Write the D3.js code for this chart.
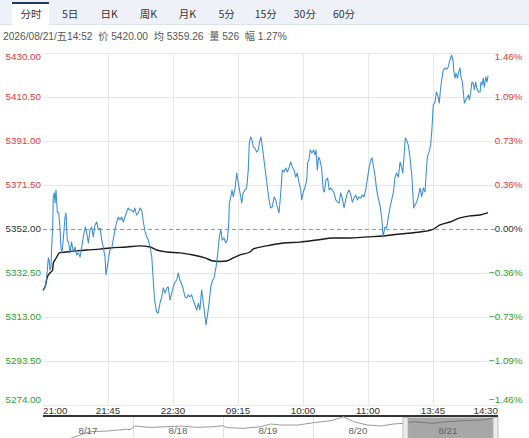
<!DOCTYPE html>
<html><head><meta charset="utf-8">
<script src="https://cdn.jsdelivr.net/npm/d3@7"></script>
<style>
html,body{margin:0;padding:0;background:#fff;overflow:hidden;}
svg{display:block;font-family:"Liberation Sans",Arial,"Noto Sans CJK SC",sans-serif;}
</style></head><body>
<svg id="chart" width="529" height="438"></svg>
<script>
// ---------- data ----------
const tabs = ["分时","5日","日K","周K","月K","5分","15分","30分","60分"];
const infoText = "2026/08/21/五14:52  价 5420.00  均 5359.26  量 526  幅 1.27%";
const prevClose = 5352;
const priceTicks = [5430, 5410.5, 5391, 5371.5, 5352, 5332.5, 5313, 5293.5, 5274];
const timeTicks = ["21:00","21:45","22:30","09:15","10:00","11:00","13:45","14:30"];
const tickStepMinutes = 45;
const sessionMinutes = 315;
// [trading minute, price]
const pricePoints = [[0,5324.5],[1.9,5327.2],[3.0,5333.8],[3.7,5339.2],[4.3,5338.3],[4.8,5333.8],[5.5,5334.7],[6.0,5344.0],[6.7,5352.9],[7.1,5366.2],[7.8,5368.0],[8.3,5363.5],[9.0,5369.3],[9.9,5359.5],[10.9,5359.1],[11.7,5352.9],[12.4,5344.0],[13.1,5341.4],[14.0,5347.1],[15.2,5356.9],[15.9,5359.1],[16.8,5347.1],[17.8,5345.8],[18.7,5341.4],[19.8,5346.2],[21.0,5341.8],[22.2,5344.0],[23.3,5340.5],[24.5,5341.4],[25.7,5339.6],[26.8,5344.0],[27.9,5348.5],[29.3,5352.9],[30.3,5350.2],[31.4,5345.8],[32.6,5351.6],[33.7,5352.9],[34.8,5348.5],[36.0,5353.8],[37.2,5355.1],[38.3,5351.6],[39.5,5352.4],[40.7,5347.1],[41.7,5344.0],[42.9,5339.6],[43.6,5331.6],[44.5,5335.2],[45.5,5339.6],[46.4,5342.7],[47.6,5343.6],[48.6,5347.1],[49.8,5351.6],[51.0,5355.1],[52.1,5357.3],[53.3,5356.0],[54.5,5357.3],[55.6,5355.1],[56.7,5357.3],[57.9,5359.5],[59.0,5361.3],[60.2,5360.4],[61.4,5360.4],[62.6,5359.5],[63.6,5361.3],[64.8,5358.2],[66.0,5359.1],[67.2,5361.3],[68.3,5360.4],[69.5,5355.1],[70.7,5350.7],[71.8,5348.5],[72.9,5347.1],[74.1,5344.0],[75.3,5339.6],[76.0,5332.5],[76.9,5323.6],[77.6,5319.2],[78.7,5315.2],[79.8,5314.8],[81.0,5319.2],[82.2,5321.9],[83.3,5325.9],[84.5,5323.6],[85.7,5325.9],[86.7,5326.3],[87.9,5320.5],[89.1,5323.6],[90.2,5326.3],[91.4,5328.5],[92.6,5329.4],[93.6,5332.5],[94.8,5329.4],[96.7,5326.3],[98.3,5321.9],[99.5,5321.4],[100.6,5322.8],[101.7,5321.9],[102.9,5322.8],[104.0,5320.5],[105.2,5318.3],[106.4,5316.1],[107.6,5319.2],[108.6,5316.1],[109.8,5325.0],[111.0,5319.2],[112.2,5313.0],[112.9,5309.5],[114.1,5314.8],[115.2,5320.5],[116.1,5326.3],[117.5,5329.4],[118.4,5330.3],[119.8,5335.2],[121.0,5341.4],[122.1,5348.5],[123.1,5351.6],[124.1,5347.1],[125.3,5348.0],[126.5,5345.8],[127.6,5347.1],[128.6,5354.0],[129.0,5363.5],[130.0,5366.2],[130.9,5369.3],[131.7,5366.2],[133.1,5370.6],[134.1,5376.8],[135.2,5372.4],[136.4,5368.0],[137.6,5363.5],[138.6,5368.0],[139.8,5369.3],[141.0,5370.2],[142.1,5378.1],[142.8,5390.1],[143.8,5392.8],[144.7,5391.4],[145.6,5388.3],[146.7,5387.9],[147.9,5386.1],[149.0,5387.0],[150.2,5391.4],[150.9,5392.8],[151.9,5388.3],[153.0,5382.6],[154.1,5376.8],[155.3,5370.6],[156.5,5364.9],[157.6,5361.3],[158.8,5361.8],[160.0,5366.2],[161.1,5364.9],[162.2,5361.8],[163.4,5359.1],[164.6,5368.0],[165.7,5378.1],[166.9,5377.3],[168.1,5379.0],[169.1,5377.3],[170.3,5379.0],[171.5,5381.7],[172.6,5379.5],[173.8,5378.1],[175.0,5375.0],[176.0,5376.8],[177.2,5372.8],[178.4,5369.3],[179.1,5364.9],[180.2,5368.4],[181.4,5370.6],[182.6,5373.7],[183.2,5381.3],[184.1,5382.6],[185.0,5387.0],[186.2,5385.7],[187.4,5387.0],[188.3,5384.8],[189.0,5387.0],[189.9,5378.1],[190.8,5383.9],[191.7,5382.6],[192.9,5379.0],[194.0,5369.3],[194.8,5368.4],[195.9,5373.7],[197.1,5374.6],[198.1,5369.3],[199.1,5370.2],[200.3,5369.3],[201.5,5368.0],[202.7,5364.9],[203.8,5364.0],[205.0,5363.5],[206.1,5368.0],[207.2,5365.7],[208.4,5361.3],[209.6,5364.9],[210.7,5368.0],[211.9,5369.3],[213.1,5367.1],[214.1,5364.0],[215.3,5365.7],[216.5,5367.1],[217.6,5364.9],[218.8,5366.2],[220.0,5365.7],[221.0,5367.1],[222.2,5366.2],[223.4,5369.3],[224.5,5373.7],[225.7,5379.0],[226.9,5382.6],[227.8,5383.5],[228.6,5380.4],[229.8,5375.9],[231.0,5369.3],[232.1,5365.7],[233.3,5362.6],[234.5,5356.9],[235.5,5348.5],[236.7,5352.9],[237.9,5352.4],[239.0,5356.9],[240.2,5361.3],[241.4,5364.9],[242.6,5368.4],[243.6,5374.6],[244.8,5376.8],[246.0,5375.0],[247.2,5381.7],[248.4,5379.0],[249.1,5376.8],[250.0,5384.8],[250.8,5392.3],[251.8,5391.4],[252.9,5389.2],[254.1,5383.5],[255.3,5375.9],[256.0,5368.4],[256.6,5361.3],[257.6,5362.6],[258.7,5364.0],[259.8,5366.2],[261.0,5370.2],[262.2,5366.2],[263.3,5370.2],[264.5,5368.4],[265.2,5375.9],[266.0,5383.5],[267.2,5386.1],[268.4,5389.2],[269.3,5396.8],[270.2,5407.0],[271.4,5408.3],[272.3,5412.7],[273.2,5411.4],[274.3,5407.8],[275.3,5414.5],[276.2,5418.9],[277.1,5422.5],[278.3,5423.4],[279.5,5422.9],[280.5,5423.8],[281.7,5426.9],[282.9,5429.1],[283.8,5426.9],[284.5,5421.6],[285.2,5418.9],[285.9,5421.1],[286.9,5418.9],[287.8,5421.6],[288.7,5423.4],[289.4,5419.4],[290.3,5417.1],[291.0,5412.7],[291.7,5407.8],[292.7,5409.2],[293.4,5410.1],[294.5,5411.4],[295.2,5409.2],[296.1,5412.7],[297.0,5417.1],[297.9,5416.7],[298.6,5413.6],[299.6,5417.1],[300.3,5414.5],[301.4,5412.7],[302.6,5412.7],[303.2,5417.1],[303.9,5415.8],[304.8,5418.9],[305.5,5414.9],[306.5,5419.4],[307.4,5417.1],[308.1,5420.0]];
// [trading minute, average price]
const avgPoints = [[0,5325.0],[1.4,5326.3],[3.0,5330.7],[4.8,5332.5],[6.7,5333.8],[7.1,5336.9],[8.3,5338.3],[9.9,5340.0],[11.2,5341.4],[16.4,5341.8],[23.3,5342.3],[30.3,5342.7],[39.5,5343.1],[46.4,5343.6],[57.9,5344.0],[67.2,5344.5],[74.1,5344.0],[78.7,5342.7],[85.7,5341.8],[94.8,5341.4],[104.0,5340.5],[112.2,5339.2],[117.9,5337.8],[122.6,5337.6],[127.2,5337.8],[131.7,5339.2],[136.4,5340.5],[143.3,5341.8],[145.4,5343.1],[154.8,5344.5],[166.4,5345.8],[177.9,5346.2],[189.5,5347.1],[201.0,5348.0],[212.6,5348.0],[224.1,5348.5],[235.5,5348.9],[247.2,5349.8],[261.0,5350.7],[269.1,5351.6],[274.8,5353.8],[281.7,5355.1],[288.7,5356.9],[295.6,5357.8],[302.6,5358.2],[308.1,5359.26]];
// navigator (5 days overview)
const navDays = ["8/17","8/18","8/19","8/20","8/21"];
const navPoints = [[0.0,5200],[0.19,5230],[0.33,5261],[0.52,5316],[0.71,5322],[0.93,5338],[0.97,5335],[1.02,5368],[1.19,5356],[1.38,5362],[1.53,5368],[1.71,5356],[1.90,5362],[2.0,5371],[2.04,5353],[2.23,5347],[2.42,5362],[2.53,5387],[2.64,5377],[2.83,5377],[3.01,5399],[3.20,5417],[3.34,5453],[3.45,5408],[3.60,5378],[3.75,5368],[3.90,5387],[4.01,5393],[4.12,5408],[4.31,5393],[4.50,5408],[4.68,5417],[4.87,5423],[5.0,5439]];
const navSelectedDay = 4;

// ---------- layout ----------
const svg = d3.select("#chart");
const L = 43, R = 498, T = 53, B = 405;
const red = "#e23b3b", green = "#2e9e2e", dark = "#333";

// tab bar
svg.append("rect").attr("x",0).attr("y",0).attr("width",529).attr("height",24).attr("fill","#eef2f8");
svg.append("line").attr("x1",0).attr("x2",529).attr("y1",24.5).attr("y2",24.5).attr("stroke","#dde3ec");
const tabX = d3.scalePoint().domain(tabs).range([31, 344]);
svg.append("rect").attr("x",12).attr("y",2).attr("width",37).attr("height",23).attr("fill","#fff");
svg.append("rect").attr("x",12).attr("y",2).attr("width",37).attr("height",2).attr("fill","#1e3766");
svg.selectAll("text.tab").data(tabs).join("text").attr("class","tab")
  .attr("x", d => tabX(d)).attr("y", 18).attr("text-anchor","middle")
  .attr("font-size", 10.5).attr("fill", "#333")
  .attr("font-family", '"Noto Sans CJK SC","Liberation Sans",sans-serif')
  .text(d => d);

// info line
svg.append("text").attr("x",3).attr("y",40).attr("font-size",10.2).attr("fill","#555")
  .attr("xml:space","preserve").style("white-space","pre")
  .attr("font-family", '"Liberation Sans","Noto Sans CJK SC",sans-serif')
  .text(infoText);

// scales
const x = d3.scaleLinear().domain([0, sessionMinutes]).range([L, R]);
const y = d3.scaleLinear().domain([d3.min(priceTicks), d3.max(priceTicks)]).range([B, T]);

// horizontal grid
svg.selectAll("line.hg").data(priceTicks.filter(v => v !== prevClose)).join("line").attr("class","hg")
  .attr("x1", L).attr("x2", R).attr("y1", d => Math.round(y(d)) + 0.5).attr("y2", d => Math.round(y(d)) + 0.5)
  .attr("stroke", "#e8e8e8");
// vertical grid
const tickMins = timeTicks.map((t, i) => i * tickStepMinutes);
svg.selectAll("line.vg").data(tickMins.slice(1, -1)).join("line").attr("class","vg")
  .attr("x1", d => Math.round(x(d)) + 0.5).attr("x2", d => Math.round(x(d)) + 0.5)
  .attr("y1", T).attr("y2", B).attr("stroke", "#e8e8e8");
// prev close dashed
svg.append("line").attr("x1", L).attr("x2", R)
  .attr("y1", Math.round(y(prevClose)) + 0.5).attr("y2", Math.round(y(prevClose)) + 0.5)
  .attr("stroke", "#999").attr("stroke-dasharray", "4,3");

// y labels
const colorOf = v => v > prevClose ? red : (v < prevClose ? green : dark);
const labelY = v => {
  const yy = y(v);
  if (yy < T + 4) return T + 4;
  if (yy > B - 5) return B - 5;
  return yy;
};
svg.selectAll("text.yl").data(priceTicks).join("text").attr("class","yl")
  .attr("x", 41).attr("y", d => labelY(d)).attr("dy", "0.35em").attr("text-anchor", "end")
  .attr("font-size", 9.8).attr("fill", colorOf).text(d => d3.format(".2f")(d));
const pct = d3.format(".2f");
svg.selectAll("text.yr").data(priceTicks).join("text").attr("class","yr")
  .attr("x", 522.5).attr("y", d => labelY(d)).attr("dy", "0.35em").attr("text-anchor", "end")
  .attr("font-size", 9.8).attr("fill", colorOf)
  .text(d => pct((d - prevClose) / prevClose * 100) + "%");

// lines
const line = d3.line().x(d => x(d[0])).y(d => y(d[1]));
svg.append("path").datum(avgPoints).attr("fill","none").attr("stroke","#1a1a1a").attr("stroke-width",1.4)
  .attr("d", d3.line().x(d => x(d[0])).y(d => y(d[1])).curve(d3.curveMonotoneX));
svg.append("path").datum(pricePoints).attr("fill","none").attr("stroke","#3a8dd0").attr("stroke-width",1.05)
  .attr("stroke-linejoin","round").attr("d", line);

// x axis
svg.append("line").attr("x1", L).attr("x2", R).attr("y1", 416).attr("y2", 416).attr("stroke", "#333").attr("stroke-width", 2);
svg.selectAll("text.xl").data(timeTicks).join("text").attr("class","xl")
  .attr("x", (d, i) => x(tickMins[i]))
  .attr("y", 413.5)
  .attr("text-anchor", (d, i) => i === 0 ? "start" : (i === timeTicks.length - 1 ? "end" : "middle"))
  .attr("font-size", 9.8).attr("fill", "#333").text(d => d);

// navigator
const nx = d3.scaleLinear().domain([0, navDays.length]).range([L, 493]);
const ny = d3.scaleLinear().domain([5240, 5460]).range([440, 416]);
svg.selectAll("line.nsep").data(d3.range(1, navDays.length)).join("line").attr("class","nsep")
  .attr("x1", d => Math.round(nx(d)) + 0.5).attr("x2", d => Math.round(nx(d)) + 0.5)
  .attr("y1", 417).attr("y2", 438).attr("stroke", "#e2e2e2");
svg.append("path").datum(navPoints).attr("fill","none").attr("stroke","#9a9a9a").attr("stroke-width",1)
  .attr("d", d3.line().x(d => nx(d[0])).y(d => ny(d[1])));
svg.selectAll("text.nl").data(navDays).join("text").attr("class","nl")
  .attr("x", (d, i) => nx(i + 0.5)).attr("y", 434).attr("text-anchor","middle")
  .attr("font-size", 9.8).attr("fill", "#666").text(d => d);
// selected range
svg.append("rect").attr("x", nx(navSelectedDay)).attr("y", 417.5).attr("width", nx(navSelectedDay + 1) - nx(navSelectedDay) + 3).attr("height", 22)
  .attr("fill", "rgba(95,95,95,0.55)");
svg.append("rect").attr("x", nx(navSelectedDay)).attr("y", 417.5).attr("width", 5).attr("height", 22)
  .attr("fill", "#ececec").attr("stroke", "#b5b5b5").attr("stroke-width", 0.8);
svg.append("rect").attr("x", nx(navSelectedDay + 1)).attr("y", 417.5).attr("width", 5).attr("height", 22)
  .attr("fill", "#ececec").attr("stroke", "#b5b5b5").attr("stroke-width", 0.8);
</script>
</body></html>
